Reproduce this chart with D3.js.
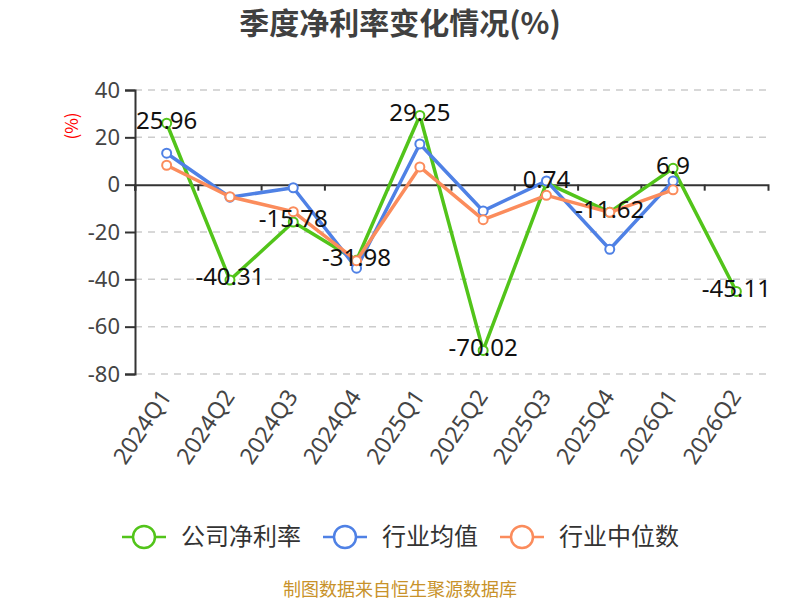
<!DOCTYPE html>
<html>
<head>
<meta charset="utf-8">
<script src="https://cdn.jsdelivr.net/npm/d3@7"></script>
<style>
  body { margin: 0; background: #fff; }
  svg { font-family: "Noto Sans CJK SC", "Noto Sans", sans-serif; }
</style>
</head>
<body>
<div id="chart"></div>
<script>
var quarters = ["2024Q1","2024Q2","2024Q3","2024Q4","2025Q1","2025Q2","2025Q3","2025Q4","2026Q1","2026Q2"];
var companyVals = [25.96, -40.31, -15.78, -31.98, 29.25, -70.02, 0.74, -11.62, 6.9, -45.11];
var industryAvg = [13.3, -5.3, -1.3, -35.3, 17.2, -11.1, 1.6, -27.3, 1.6, null];
var industryMed = [8.2, -5.1, -11.4, -32.1, 7.5, -14.8, -4.5, -11.7, -2.2, null];
var yTicks = [40, 20, 0, -20, -40, -60, -80];
var seriesNames = ["公司净利率", "行业均值", "行业中位数"];
var seriesColors = ["#52c41a", "#4f81e5", "#fb8c5c"];

var width = 800, height = 600,
    margin = {top: 90, left: 135, right: 32, bottom: 226};

var svg = d3.select("#chart")
    .append("svg")
    .attr("width", width)
    .attr("height", height)

var x = d3.scaleBand()
    .domain(quarters)
    .range([margin.left, width - margin.right])

var y = d3.scaleLinear()
    .domain([-80, 40])
    .range([height - margin.bottom, margin.top])

var numFont = "'Noto Sans', sans-serif";

// title
svg.append("text")
    .attr("x", 400).attr("y", 34)
    .attr("text-anchor", "middle")
    .attr("font-size", 30).attr("font-weight", "bold")
    .attr("fill", "#404040")
    .text("季度净利率变化情况(%)")

// y axis name
svg.append("text")
    .attr("transform", "translate(78,126) rotate(-90)")
    .attr("text-anchor", "middle")
    .attr("font-size", 17).attr("fill", "#ff0000")
    .text("(%)")

// grid lines
svg.selectAll(".grid")
    .data(yTicks.filter(function(d){ return d !== 0; }))
    .enter().append("line")
    .attr("x1", margin.left).attr("x2", width - margin.right)
    .attr("y1", function(d){ return y(d); })
    .attr("y2", function(d){ return y(d); })
    .attr("stroke", "#cccccc").attr("stroke-width", 1.5)
    .attr("stroke-dasharray", "7,6")

// y axis
var yAxis = svg.append("g")
    .attr("transform", "translate(" + margin.left + ",0)")
    .call(d3.axisLeft(y).tickValues(yTicks).tickSize(10).tickPadding(5)
        .tickFormat(function(d){ return String(d); }))
yAxis.select(".domain").attr("stroke", "#333").attr("stroke-width", 2)
yAxis.selectAll(".tick line").attr("stroke", "#333").attr("stroke-width", 2)
yAxis.selectAll(".tick text").attr("font-size", 22).attr("fill", "#444")
    .attr("font-family", numFont)

// x axis at zero
var xAxis = svg.append("g")
    .attr("transform", "translate(0," + y(0) + ")")
    .call(d3.axisBottom(x).tickSize(6).tickSizeOuter(6).tickFormat(""))
xAxis.select(".domain").attr("stroke", "#333").attr("stroke-width", 2)
xAxis.selectAll(".tick line")
    .attr("stroke", "#333").attr("stroke-width", 2)
    .attr("transform", "translate(" + (-x.bandwidth() / 2) + ",0)")

// x labels at bottom, rotated
svg.selectAll(".xlab")
    .data(quarters)
    .enter().append("text")
    .attr("transform", function(d){
        return "translate(" + (x(d) + x.bandwidth() / 2 - 1) + "," + (y(-80) + 18) + ") rotate(-56)";
    })
    .attr("text-anchor", "end")
    .attr("dy", "0.35em")
    .attr("font-size", 23).attr("fill", "#444")
    .attr("font-family", numFont)
    .text(function(d){ return d; })

var line = d3.line()
    .defined(function(d){ return d != null; })
    .x(function(d, i){ return x(quarters[i]) + x.bandwidth() / 2; })
    .y(function(d){ return y(d); })

var allSeries = [companyVals, industryAvg, industryMed];

allSeries.forEach(function(vals, k){
    svg.append("path")
        .datum(vals)
        .attr("d", line)
        .attr("fill", "none")
        .attr("stroke", seriesColors[k])
        .attr("stroke-width", 3.5)
        .attr("stroke-linejoin", "round")
    svg.selectAll(".pt" + k)
        .data(vals.map(function(v, i){ return {v: v, i: i}; }).filter(function(d){ return d.v != null; }))
        .enter().append("circle")
        .attr("cx", function(d){ return x(quarters[d.i]) + x.bandwidth() / 2; })
        .attr("cy", function(d){ return y(d.v); })
        .attr("r", 4.5)
        .attr("fill", "#fff")
        .attr("stroke", seriesColors[k])
        .attr("stroke-width", 2)
})

// company value labels, centred just above each point
svg.selectAll(".vlab")
    .data(companyVals)
    .enter().append("text")
    .attr("x", function(d, i){ return x(quarters[i]) + x.bandwidth() / 2; })
    .attr("y", function(d){ return y(d) - 3; })
    .attr("dy", "0.35em")
    .attr("text-anchor", "middle")
    .attr("font-size", 24).attr("fill", "#111")
    .attr("font-family", numFont)
    .text(function(d){ return d; })

// legend
var legend = svg.append("g")
var legX = [122, 323, 500];
seriesNames.forEach(function(name, k){
    var g = legend.append("g").attr("transform", "translate(" + legX[k] + ",537)")
    g.append("line").attr("x1", 0).attr("x2", 44).attr("y1", 0).attr("y2", 0)
        .attr("stroke", seriesColors[k]).attr("stroke-width", 2.5)
    g.append("circle").attr("cx", 22).attr("cy", 0).attr("r", 11)
        .attr("fill", "#fff").attr("stroke", seriesColors[k]).attr("stroke-width", 2.5)
    g.append("text").attr("x", 59).attr("y", 0).attr("dy", "0.35em")
        .attr("font-size", 24).attr("fill", "#333")
        .text(name)
})

// footer
svg.append("text")
    .attr("x", 400).attr("y", 596)
    .attr("text-anchor", "middle")
    .attr("font-size", 18).attr("fill", "#c8922a")
    .text("制图数据来自恒生聚源数据库")
</script>
</body>
</html>
